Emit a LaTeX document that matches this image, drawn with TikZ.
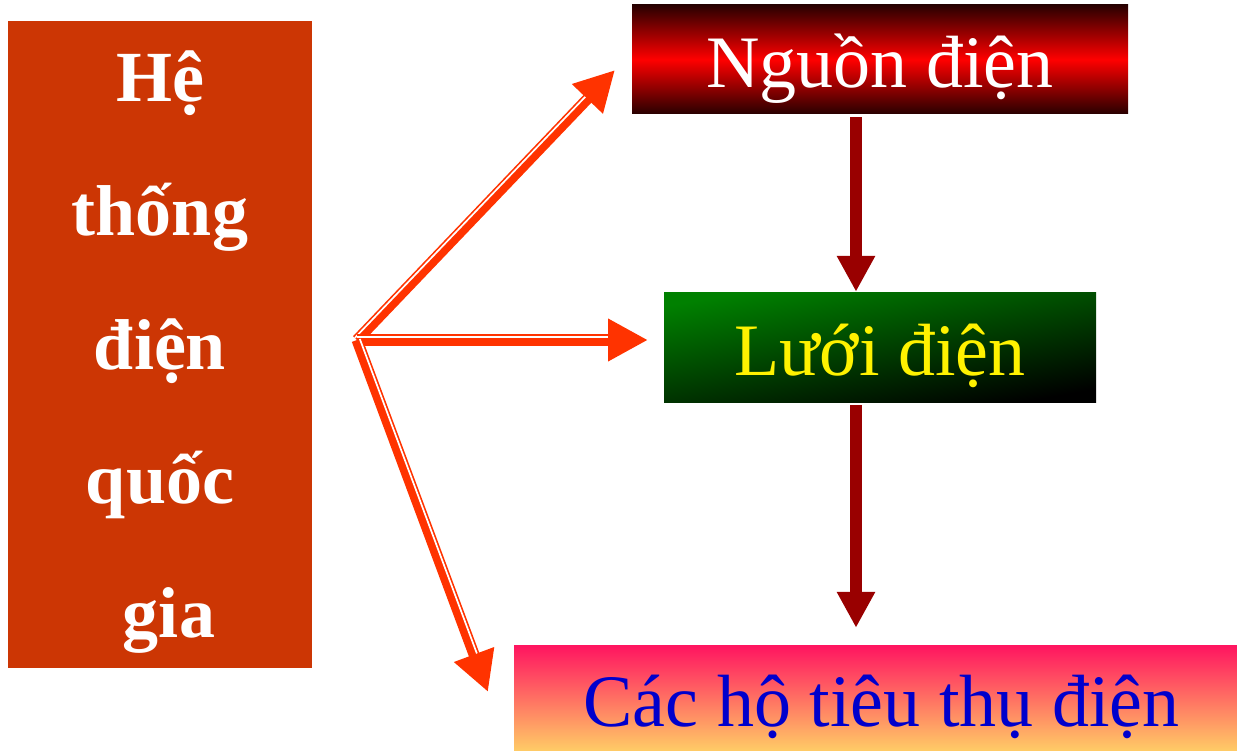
\documentclass[tikz,border=0pt]{standalone}
\usepackage{fontspec}
\setmainfont{Liberation Serif}
\usetikzlibrary{arrows.meta,calc}
\definecolor{brickred}{RGB}{204,54,4}
\definecolor{feedred}{RGB}{255,51,0}
\definecolor{flowred}{RGB}{153,0,0}
\definecolor{deepred}{RGB}{40,0,0}
\definecolor{gridgreen}{RGB}{0,128,0}
\definecolor{loadpink}{RGB}{255,20,96}
\definecolor{loadgold}{RGB}{255,204,102}
\definecolor{loadblue}{RGB}{0,0,204}
\begin{document}
\begin{tikzpicture}[
        x=1pt, y=-1pt,
        block/.style={inner sep=0pt, text height=56pt, text depth=0pt,
            font=\fontsize{74}{80}\selectfont},
        sysbox/.style={inner sep=0pt, text depth=0pt, fill=brickred, text=white, align=center,
            font=\bfseries\fontsize{72}{134}\selectfont},
        srcbox/.style={block, text=white, top color=deepred, bottom color=deepred, middle color=red},
        gridbox/.style={block, text=yellow, top color=gridgreen, middle color=gridgreen!88!black,
            bottom color=black, shading angle=10},
        loadbox/.style={block, text=loadblue, top color=loadpink, bottom color=loadgold},
        flow/.style={draw=flowred, line width=12pt, -{Triangle[length=36pt,width=36pt]}},
        feed/.style={draw=feedred, line width=11pt, -{Triangle[length=40pt,width=40pt]}},
        gap/.style={draw=white, line width=1.7pt},
    ]
    \useasboundingbox (0,0) rectangle (1237,751);
    \node[sysbox, minimum width=304pt, minimum height=647pt] (he) at (160,344.5)
        {Hệ\\thống\\điện\\quốc\\\hspace*{18pt}gia};
    \node[srcbox, minimum width=496pt, minimum height=109pt] (nguon) at (880,59.5) {Nguồn điện};
    \node[gridbox, minimum width=432pt, minimum height=109pt] (luoi) at (880,347.5) {Lưới điện};
    \node[loadbox, minimum width=723pt, minimum height=106pt] (ho) at (875.5,698) {\hspace*{12pt}Các hộ tiêu thụ điện};

    \draw[flow, shorten <=3pt, shorten >=1pt] ([xshift=-24pt]nguon.south) -- ([xshift=-24pt]luoi.north);
    \draw[flow, shorten <=3pt, shorten >=17pt] ([xshift=-24pt]luoi.south) -- ([xshift=-24pt]luoi.south |- ho.north);

    \coordinate (fork) at (357,340);
    \coordinate (tn) at (615,70);
    \coordinate (tl) at (648,340);
    \coordinate (th) at (488,692);
    \foreach \t in {tn,tl,th}{
        \draw[feed] (fork) -- (\t);
        \coordinate (e) at ($(\t)!40pt!(fork)$);
        \draw[gap] ($(fork)!3pt!90:(e)$) -- ($(e)!3pt!-90:(fork)$);
    }
\end{tikzpicture}
\end{document}
